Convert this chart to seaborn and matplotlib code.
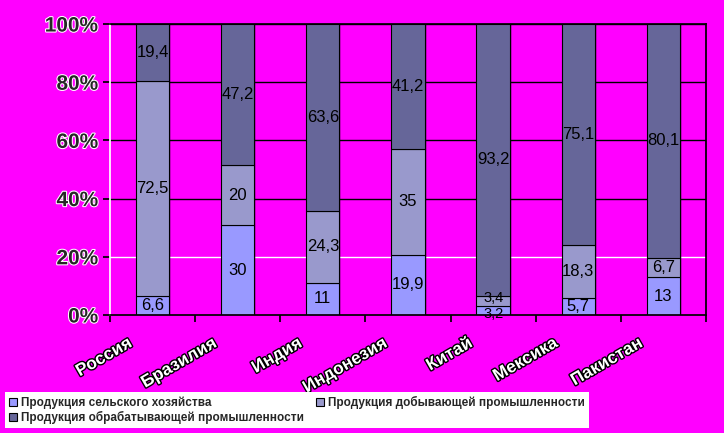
import matplotlib
matplotlib.use("Agg")
import matplotlib.pyplot as plt
import matplotlib.patheffects as pe
import numpy as np
import pandas as pd
import seaborn as sns

countries = ["Россия", "Бразилия", "Индия", "Индонезия", "Китай", "Мексика", "Пакистан"]
series_names = [
    "Продукция сельского хозяйства",
    "Продукция добывающей промышленности",
    "Продукция обрабатывающей промышленности",
]
agri = [6.6, 30, 11, 19.9, 3.2, 5.7, 13]
mining = [72.5, 20, 24.3, 35, 3.4, 18.3, 6.7]
manuf = [19.4, 47.2, 63.6, 41.2, 93.2, 75.1, 80.1]
y_ticks = [0, 20, 40, 60, 80, 100]

colors = ["#9999ff", "#9999cc", "#666699"]
bg = "#ff00ff"

sns.set_theme(style="white")
plt.rcParams["font.family"] = ["Liberation Sans", "DejaVu Sans"]

raw = np.array([agri, mining, manuf])
share = raw / raw.sum(axis=0) * 100

fig = plt.figure(figsize=(7.24, 4.33), dpi=100, facecolor=bg)
ax = fig.add_axes([0.152, 0.2725, 0.823, 0.672])
ax.set_facecolor(bg)

bar_w = 0.39
bottom = np.zeros(len(countries))
handles = []
for i, name in enumerate(series_names):
    df = pd.DataFrame({"country": countries, "value": share[i]})
    sns.barplot(data=df, x="country", y="value", bottom=bottom, color=colors[i],
                width=bar_w, edgecolor="black", linewidth=0.8, saturation=1, ax=ax)
    handles.append(plt.Rectangle((0, 0), 1, 1, facecolor=colors[i], edgecolor="black", linewidth=0.8))
    for j in range(len(countries)):
        txt = f"{raw[i, j]:g}".replace(".", ",")
        yc = bottom[j] + share[i, j] / 2
        va, fs = "center", 12
        # thin China segments: stack the two labels around the shared edge
        if share[i, j] < 5 and i == 0:
            va, fs = "top", 10.5
            yc = bottom[j] + share[i, j] - 0.4
        elif share[i, j] < 5 and i == 1:
            va, fs = "bottom", 10.5
            yc = bottom[j] + 0.4
        ax.text(j, yc, txt, ha="center", va=va, fontsize=fs, color="black", zorder=5)
    bottom = bottom + share[i]

ax.set_xlim(-0.5, len(countries) - 0.5)
ax.set_ylim(0, 100)
for yv in y_ticks[1:]:
    ax.axhline(yv, color="white" if yv == 20 else "black", lw=1, zorder=0)
for j in range(len(countries)):
    ax.axvline(j + bar_w / 2, color="black", lw=1, zorder=0)

ax.set_yticks(y_ticks)
ax.set_yticklabels([f"{v}%" for v in y_ticks], fontsize=15, fontweight="bold")
for t in ax.get_yticklabels():
    t.set_path_effects([pe.withStroke(linewidth=1.5, foreground="white")])

ax.set_xticks(np.arange(-0.5, len(countries), 1))
ax.set_xticklabels([])
ax.tick_params(axis="both", length=5, color="black", direction="out", left=True, bottom=True)
for j, c in enumerate(countries):
    ax.text(j - 0.3, -7, c, rotation=30, ha="right", va="top", rotation_mode="anchor",
            fontsize=12.5, fontweight="bold", color="white",
            path_effects=[pe.withStroke(linewidth=2, foreground="black")], clip_on=False)

ax.set_xlabel("")
ax.set_ylabel("")
ax.spines["left"].set_color("white")
ax.spines["bottom"].set_color("black")
ax.spines["right"].set_color("black")
ax.spines["top"].set_color("black")

order = [0, 2, 1]
leg = fig.legend([handles[k] for k in order], [series_names[k] for k in order],
                 loc="lower left", bbox_to_anchor=(0.007, 0.0115),
                 ncol=2, frameon=True, fancybox=False, framealpha=1,
                 facecolor="white", edgecolor="white", fontsize=8.5,
                 handlelength=0.7, handleheight=0.7, handletextpad=0.3,
                 columnspacing=1.0, borderpad=0.35, labelspacing=0.15, borderaxespad=0)
leg.get_frame().set_linewidth(0)
for t in leg.get_texts():
    t.set_fontweight("bold")

fig.savefig("out.png", dpi=100, facecolor=bg)
